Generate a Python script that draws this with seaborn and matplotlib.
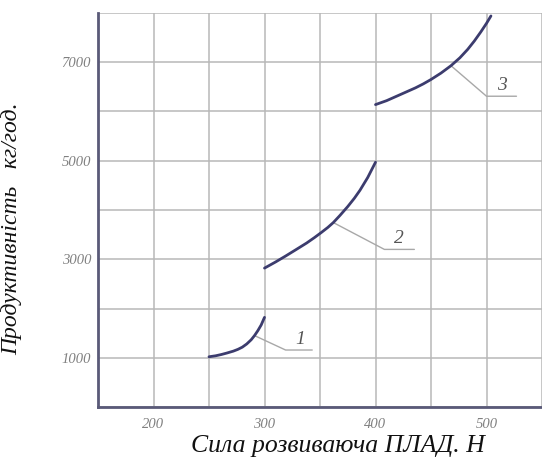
import numpy as np
import pandas as pd
import matplotlib
matplotlib.use('Agg')
import matplotlib.pyplot as plt
import seaborn as sns

# curve data
x1 = [250, 256, 261, 266, 272, 276, 280, 284, 288, 291, 294, 297, 300]
y1 = [1020, 1040, 1065, 1095, 1135, 1170, 1215, 1280, 1365, 1450, 1550, 1665, 1820]
x2 = [300, 310, 319, 328, 338, 345, 351, 357, 362, 368, 375, 381, 386, 393, 400]
y2 = [2820, 2945, 3065, 3190, 3330, 3440, 3540, 3645, 3745, 3890, 4070, 4240, 4400, 4660, 4970]
x3 = [400, 410, 419, 428, 436, 443, 450, 459, 468, 476, 483, 489, 495, 500, 504]
y3 = [6140, 6220, 6310, 6400, 6480, 6560, 6650, 6780, 6930, 7090, 7260, 7430, 7620, 7790, 7940]

# leader lines: anchor on curve, elbow, end of underline, label position
curve_ids = ['1', '2', '3']
lead_x = [291, 362, 468]
elbow_x = [319, 408, 500]
elbow_y = [1157, 3200, 6310]
end_x = [343, 435, 527]
label_x = [332, 421, 514]

xticks = list(range(150, 551, 50))
xlabels = ['', '200', '', '300', '', '400', '', '500', '']
yticks = list(range(0, 8001, 1000))
ylabels = ['', '1000', '', '3000', '', '5000', '', '7000', '']

df = pd.concat([
    pd.DataFrame({'x': x1, 'y': y1, 'curve': '1'}),
    pd.DataFrame({'x': x2, 'y': y2, 'curve': '2'}),
    pd.DataFrame({'x': x3, 'y': y3, 'curve': '3'}),
])

sns.set_style('white')
plt.rcParams['font.family'] = ['Liberation Serif', 'DejaVu Serif']

fig = plt.figure(figsize=(5.42, 4.73), dpi=100)
ax = fig.add_axes([98 / 542, 1 - 407 / 473, 1 - 98 / 542, (407 - 13) / 473])

sns.lineplot(data=df, x='x', y='y', units='curve', estimator=None, sort=False,
             color='#3c3c6e', linewidth=2, ax=ax)

xs = [x1, x2, x3]
ys = [y1, y2, y3]
for i, cid in enumerate(curve_ids):
    ly = np.interp(lead_x[i], xs[i], ys[i])
    ax.plot([lead_x[i], elbow_x[i], end_x[i]], [ly, elbow_y[i], elbow_y[i]],
            color='#a8a8a8', lw=1, zorder=1)
    ax.text(label_x[i], elbow_y[i] + 40, cid,
            fontsize=14, style='italic', color='#555555', ha='center', va='bottom')

ax.set_xlim(150, 545)
ax.set_ylim(0, 8000)
ax.set_xticks(xticks)
ax.set_xticklabels(xlabels)
ax.set_yticks(yticks)
ax.set_yticklabels(ylabels)
ax.tick_params(length=0, labelsize=10.5, labelcolor='#808080', pad=8)
for lab in ax.get_xticklabels() + ax.get_yticklabels():
    lab.set_style('italic')
ax.tick_params(axis='y', pad=5)

ax.grid(True, color='#b8b8b8', linewidth=1.1)
ax.set_axisbelow(True)
for side in ['top', 'right']:
    ax.spines[side].set_visible(False)
for side in ['left', 'bottom']:
    ax.spines[side].set_color('#5a5a78')
    ax.spines[side].set_linewidth(2)

ax.set_xlabel('Сила розвиваюча ПЛАД. Н', fontsize=18.5, style='italic', color='#111111')
ax.xaxis.set_label_coords(0.54, -0.07)
ax.set_ylabel('Продуктивність   кг/год.', fontsize=17, style='italic', color='#111111')
ax.yaxis.set_label_coords(-0.17, 0.452)

fig.savefig('out.png', dpi=100)
